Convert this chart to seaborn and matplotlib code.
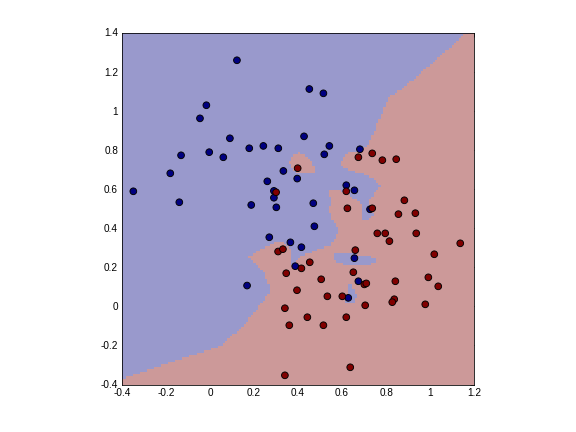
import numpy as np
import pandas as pd
import matplotlib
matplotlib.use("Agg")
import matplotlib.pyplot as plt
import seaborn as sns
from matplotlib.colors import ListedColormap

# ---- data ----
blue_x = [0.122, -0.017, -0.046, 0.090, 0.178, 0.242, 0.310, -0.132, -0.004, 0.060,
          -0.181, -0.349, 0.333, 0.396, 0.260, 0.290, 0.290, -0.140, 0.187, 0.451,
          0.515, 0.427, 0.542, 0.519, 0.681, 0.619, 0.656, 0.469, 0.301, 0.269,
          0.365, 0.415, 0.387, 0.168, 0.727, 0.474, 0.656, 0.674, 0.628]
blue_y = [1.258, 1.028, 0.961, 0.859, 0.808, 0.820, 0.808, 0.772, 0.788, 0.762,
          0.680, 0.588, 0.692, 0.653, 0.639, 0.590, 0.555, 0.532, 0.518, 1.111,
          1.089, 0.869, 0.820, 0.777, 0.803, 0.619, 0.593, 0.527, 0.506, 0.353,
          0.327, 0.302, 0.205, 0.106, 0.496, 0.409, 0.246, 0.128, 0.043]
red_x = [0.398, 0.300, 0.674, 0.737, 0.783, 0.846, 0.619, 0.883, 0.309, 0.331,
         0.346, 0.395, 0.340, 0.360, 0.340, 0.624, 0.737, 0.856, 0.933, 0.760,
         0.796, 0.937, 0.815, 1.137, 0.660, 1.019, 0.453, 0.415, 0.651, 0.505,
         0.701, 0.710, 0.842, 0.992, 1.037, 0.533, 0.601, 0.837, 0.828, 0.978,
         0.705, 0.442, 0.515, 0.619, 0.637]
red_y = [0.706, 0.583, 0.762, 0.782, 0.747, 0.752, 0.588, 0.542, 0.280, 0.292,
         0.169, 0.082, -0.010, -0.097, -0.353, 0.501, 0.501, 0.471, 0.476, 0.373,
         0.373, 0.373, 0.333, 0.322, 0.287, 0.266, 0.225, 0.194, 0.174, 0.138,
         0.112, 0.117, 0.128, 0.148, 0.102, 0.051, 0.051, 0.036, 0.021, 0.010,
         0.005, -0.056, -0.097, -0.056, -0.312]
x_ticks = [-0.4, -0.2, 0, 0.2, 0.4, 0.6, 0.8, 1, 1.2]
x_tick_labels = ["-0.4", "-0.2", "0", "0.2", "0.4", "0.6", "0.8", "1", "1.2"]
y_ticks = [-0.4, -0.2, 0, 0.2, 0.4, 0.6, 0.8, 1, 1.2, 1.4]
y_tick_labels = ["-0.4", "-0.2", "0", "0.2", "0.4", "0.6", "0.8", "1", "1.2", "1.4"]

df = pd.DataFrame({
    "x": blue_x + red_x,
    "y": blue_y + red_y,
    "cls": ["blue"] * len(blue_x) + ["red"] * len(red_x),
})

sns.set_style("white")
plt.rcParams['font.family'] = ['Liberation Sans', 'DejaVu Sans']

fig = plt.figure(figsize=(8, 6), dpi=72)
ax = fig.add_axes([122.1 / 576, 47.5 / 432, 352 / 576, 352 / 432])

# ---- decision region from a Gaussian-kernel classifier on the points ----
pts = df[["x", "y"]].to_numpy()
lab = np.where(df["cls"] == "red", 1, -1)
gx = np.linspace(-0.4, 1.2, 150)
gy = np.linspace(-0.4, 1.4, 150)
GX, GY = np.meshgrid(gx, gy)
d2 = (GX[..., None] - pts[:, 0]) ** 2 + (GY[..., None] - pts[:, 1]) ** 2
sigma = 0.036


def lse(mask):
    a = -d2[..., mask] / (2 * sigma ** 2)
    m = a.max(-1)
    return m + np.log(np.exp(a - m[..., None]).sum(-1))


score = lse(lab == 1) - lse(lab == -1)
ax.pcolormesh(gx, gy, (score > 0).astype(int),
              cmap=ListedColormap(['#9999cc', '#cc9999']), shading='nearest',
              vmin=0, vmax=1, rasterized=True)

sns.scatterplot(data=df, x="x", y="y", hue="cls",
                palette={"blue": "#000080", "red": "#800000"},
                edgecolor="black", linewidth=0.9, s=45, legend=False, ax=ax,
                zorder=3)

ax.set_xlim(-0.4, 1.2)
ax.set_ylim(-0.4, 1.4)
ax.set_xticks(x_ticks)
ax.set_xticklabels(x_tick_labels)
ax.set_yticks(y_ticks)
ax.set_yticklabels(y_tick_labels)
ax.set_xlabel("")
ax.set_ylabel("")
ax.tick_params(direction="in", length=4, width=0.6, top=True, right=True,
               labelsize=10, colors="black", pad=4)
for s in ax.spines.values():
    s.set_visible(True)
    s.set_color("black")
    s.set_linewidth(0.8)

fig.savefig("out.png", dpi=72)
